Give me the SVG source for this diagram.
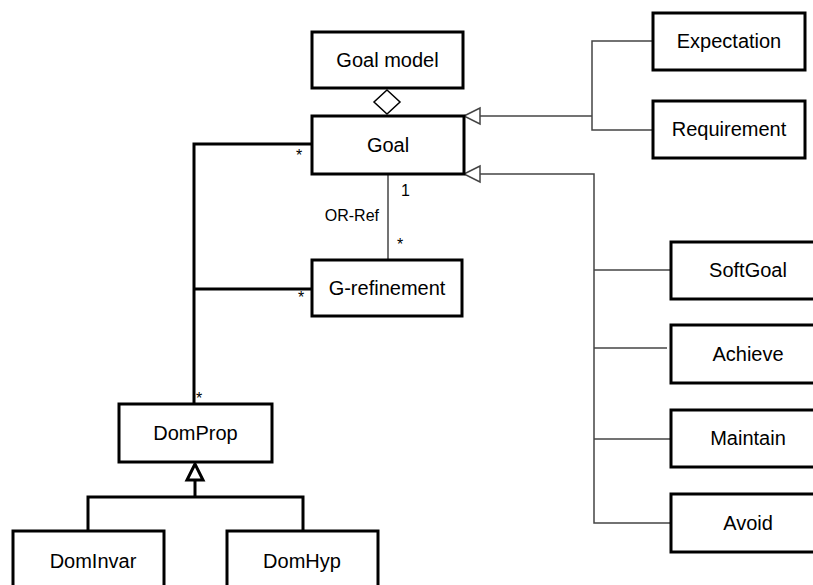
<svg xmlns="http://www.w3.org/2000/svg" width="813" height="585" viewBox="0 0 813 585">
<style>
.box{fill:#fff;stroke:#000;stroke-width:3}
.lbl{font-family:"Liberation Sans",Arial,sans-serif;font-size:20px;fill:#000;text-anchor:middle}
.sm{font-family:"Liberation Sans",Arial,sans-serif;font-size:16px;fill:#000}
.thin{fill:none;stroke:#444;stroke-width:1.5}
.thick{fill:none;stroke:#000;stroke-width:3}
</style>
<rect width="813" height="585" fill="#fff"/>
<g id="connectors">
<polyline class="thin" points="653,41 592,41 592,130 653,130"/>
<line class="thin" x1="480" y1="116" x2="592" y2="116"/>
<polyline class="thin" points="480,174 594,174 594,523 671,523"/>
<line class="thin" x1="594" y1="270" x2="671" y2="270"/>
<line class="thin" x1="594" y1="348" x2="667" y2="348"/>
<line class="thin" x1="594" y1="439" x2="671" y2="439"/>
<polygon points="464,116 480,108 480,124" fill="#fff" stroke="#444" stroke-width="1.5"/>
<polygon points="464,174 480,166 480,182" fill="#fff" stroke="#444" stroke-width="1.5"/>
<polygon points="387,90 400,102 387,114 374,102" fill="#fff" stroke="#000" stroke-width="1.5"/>
<line class="thin" x1="388" y1="174" x2="388" y2="260"/>
<polyline class="thick" points="312,144 194,144 194,404"/>
<line class="thick" x1="194" y1="289" x2="312" y2="289"/>
<polyline class="thick" points="88,531 88,497 303,497 303,531"/>
<line class="thick" x1="195" y1="480" x2="195" y2="497"/>
<polygon points="195,464 187,480 203,480" fill="#fff" stroke="#000" stroke-width="3"/>
<text class="sm" x="296" y="161">*</text>
<text class="sm" x="298" y="303">*</text>
<text class="sm" x="196" y="404">*</text>
<text class="sm" x="401" y="196">1</text>
<text class="sm" x="397" y="250">*</text>
<text class="sm" x="379" y="221" text-anchor="end">OR-Ref</text>
</g>
<g id="goalmodel"><rect class="box" x="312" y="32" width="151" height="56"/><text class="lbl" x="387.5" y="67">Goal model</text></g>
<g id="goal"><rect class="box" x="312" y="116" width="152" height="58"/><text class="lbl" x="388" y="152">Goal</text></g>
<g id="grefinement"><rect class="box" x="312" y="260" width="150" height="56"/><text class="lbl" x="387" y="295">G-refinement</text></g>
<g id="expectation"><rect class="box" x="653" y="13" width="152" height="57"/><text class="lbl" x="729" y="48">Expectation</text></g>
<g id="requirement"><rect class="box" x="653" y="101" width="152" height="57"/><text class="lbl" x="729" y="136">Requirement</text></g>
<g id="softgoal"><rect class="box" x="671" y="242" width="155" height="57"/><text class="lbl" x="748" y="277">SoftGoal</text></g>
<g id="achieve"><rect class="box" x="671" y="325" width="155" height="58"/><text class="lbl" x="748" y="361">Achieve</text></g>
<g id="maintain"><rect class="box" x="671" y="410" width="155" height="57"/><text class="lbl" x="748" y="445">Maintain</text></g>
<g id="avoid"><rect class="box" x="671" y="494" width="155" height="58"/><text class="lbl" x="748" y="530">Avoid</text></g>
<g id="domprop"><rect class="box" x="119" y="404" width="153" height="58"/><text class="lbl" x="195.5" y="440">DomProp</text></g>
<g id="dominvar"><rect class="box" x="13" y="531" width="151" height="70"/><text class="lbl" x="93" y="568">DomInvar</text></g>
<g id="domhyp"><rect class="box" x="227" y="531" width="151" height="70"/><text class="lbl" x="302" y="568">DomHyp</text></g>
</svg>
